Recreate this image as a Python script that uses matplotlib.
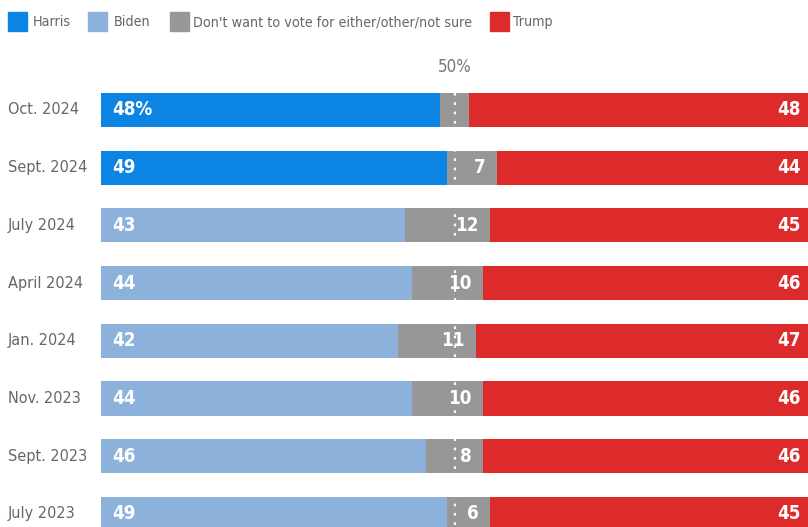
import matplotlib.pyplot as plt
from matplotlib import font_manager
from matplotlib.font_manager import FontProperties
from matplotlib.patches import Rectangle
from matplotlib.transforms import blended_transform_factory

files = {f.fname.split('/')[-1]: f.fname for f in font_manager.fontManager.ttflist}
if 'LiberationSansNarrow-Regular.ttf' in files:
    REG = files['LiberationSansNarrow-Regular.ttf']
    BOLD = files.get('LiberationSansNarrow-Bold.ttf', REG)
else:
    REG = files['DejaVuSansCondensed.ttf']
    BOLD = files['DejaVuSansCondensed-Bold.ttf']

periods = ['Oct. 2024', 'Sept. 2024', 'July 2024', 'April 2024',
           'Jan. 2024', 'Nov. 2023', 'Sept. 2023', 'July 2023']
dem = [48, 49, 43, 44, 42, 44, 46, 49]
dem_name = ['Harris', 'Harris', 'Biden', 'Biden', 'Biden', 'Biden', 'Biden', 'Biden']
other = [4, 7, 12, 10, 11, 10, 8, 6]
trump = [48, 44, 45, 46, 47, 46, 46, 45]

legend_labels = ['Harris', 'Biden', "Don't want to vote for either/other/not sure", 'Trump']
colors = {'Harris': '#0b84e4', 'Biden': '#8cb2dc', 'Other': '#979797', 'Trump': '#dd2a2b'}
legend_colors = [colors['Harris'], colors['Biden'], colors['Other'], colors['Trump']]

W, H = 808, 527
fig = plt.figure(figsize=(W / 100, H / 100), dpi=100)
# axes: x 0..100 maps to pixels 101..808
ax = fig.add_axes([101 / W, 0, 707 / W, 1])
row_px = 57.7
first_px = 110
ax.set_xlim(0, 100)
ax.set_ylim((H - first_px) / row_px, -first_px / row_px)
ax.axis('off')

bh = 0.59
ys = list(range(len(periods)))
ax.barh(ys, dem, height=bh, color=[colors[n] for n in dem_name], zorder=2)
ax.barh(ys, other, left=dem, height=bh, color=colors['Other'], zorder=2)
left_t = [d + o for d, o in zip(dem, other)]
ax.barh(ys, trump, left=left_t, height=bh, color=colors['Trump'], zorder=2)

# 50% dotted line
ax.vlines(50, -bh / 2, ax.get_ylim()[0], colors='white', linestyles=(0, (1.2, 3)),
          lw=1.6, zorder=3)

fp_50 = FontProperties(fname=REG, size=12.2)
fp_cat = FontProperties(fname=REG, size=11.6)
fp_leg = FontProperties(fname=REG, size=10.3)
fp_bold = FontProperties(fname=BOLD, size=13.5)

ax.text(50, -bh / 2 - 0.3, '50%', ha='center', va='bottom', color='#777777',
        fontproperties=fp_50)

cat_tr = blended_transform_factory(fig.transFigure, ax.transData)
for i, y in enumerate(ys):
    ax.text(8 / W, y, periods[i], ha='left', va='center', color='#666666',
            fontproperties=fp_cat, transform=cat_tr)
    ax.text(1.6, y, f'{dem[i]}%' if i == 0 else f'{dem[i]}', ha='left', va='center',
            color='white', fontproperties=fp_bold, zorder=4)
    if i > 0:
        ax.text(dem[i] + other[i] - 1.6, y, f'{other[i]}', ha='right', va='center',
                color='white', fontproperties=fp_bold, zorder=4)
    ax.text(99.0, y, f'{trump[i]}', ha='right', va='center', color='white',
            fontproperties=fp_bold, zorder=4)

# legend
sq_x = [8, 88, 170, 490]
tx_x = [33, 114, 193, 513]
for lbl, c, sx, tx in zip(legend_labels, legend_colors, sq_x, tx_x):
    fig.add_artist(Rectangle((sx / W, 1 - 31 / H), 19 / W, 19 / H,
                             transform=fig.transFigure, color=c))
    fig.text(tx / W, 1 - 22 / H, lbl, ha='left', va='center', color='#666666',
             fontproperties=fp_leg)

fig.savefig('out.png', dpi=100)
